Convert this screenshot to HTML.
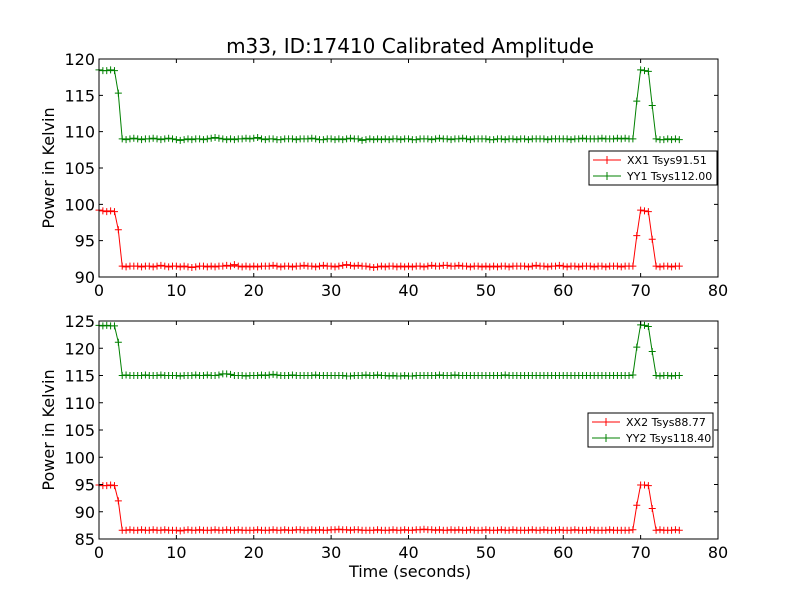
<!DOCTYPE html>
<html><head><meta charset="utf-8"><style>
body{margin:0;background:#fff;}
svg{display:block;font-family:"DejaVu Sans","Liberation Sans",sans-serif;}
</style></head><body>
<svg id="chart" width="800" height="600" viewBox="0 0 800 600" xmlns="http://www.w3.org/2000/svg">
<rect width="800" height="600" fill="#fff"/>
<text x="410" y="53" font-size="20" text-anchor="middle">m33, ID:17410 Calibrated Amplitude</text>
<text x="410" y="577" font-size="16" text-anchor="middle">Time (seconds)</text>
<g id="p1"></g>
<g id="p2"></g>
</svg>
<script>
const dt = 0.5;
const xTicks = [0,10,20,30,40,50,60,70,80];
const yTicksTop = [90,95,100,105,110,115,120];
const yTicksBottom = [85,90,95,100,105,110,115,120,125];
const xx1 = [99.2,99.1,99.0,99.1,99.0,96.5,
91.5,91.4,91.5,91.5,
91.5,91.4,91.5,91.5,91.4,91.5,91.6,91.5,91.4,91.5,
91.5,91.4,91.5,91.4,91.3,91.4,91.5,91.5,91.4,91.5,
91.4,91.5,91.5,91.6,91.5,91.7,91.5,91.4,91.5,91.4,
91.5,91.4,91.5,91.5,91.5,91.6,91.5,91.4,91.5,91.5,
91.4,91.5,91.5,91.6,91.5,91.5,91.4,91.5,91.6,91.5,
91.5,91.4,91.5,91.6,91.7,91.6,91.5,91.6,91.5,91.5,
91.4,91.3,91.4,91.5,91.4,91.5,91.5,91.4,91.5,91.4,
91.5,91.4,91.5,91.5,91.4,91.5,91.6,91.5,91.5,91.6,
91.6,91.5,91.5,91.6,91.5,91.5,91.4,91.5,91.5,91.4,
91.5,91.4,91.5,91.4,91.5,91.5,91.4,91.5,91.5,91.5,
91.5,91.4,91.5,91.6,91.5,91.5,91.4,91.5,91.5,91.6,
91.5,91.4,91.5,91.5,91.4,91.5,91.5,91.5,91.4,91.5,
91.5,91.4,91.5,91.5,91.5,91.4,91.5,91.5,91.5,
95.7,99.2,99.1,99.0,95.2,
91.5,91.4,91.5,91.5,91.4,91.5,91.5];
const yy1 = [118.5,118.4,118.4,118.5,118.4,115.3,
109.0,108.9,109.0,109.1,
109.0,108.9,109.0,109.0,109.1,109.0,108.9,109.0,109.1,109.0,
108.9,108.8,108.9,109.0,108.9,109.0,109.0,108.9,109.0,109.1,
109.2,109.1,109.0,108.9,109.0,108.9,109.0,109.0,109.1,109.0,
109.1,109.2,109.0,108.9,109.0,109.0,108.9,108.9,109.0,109.0,
109.0,108.9,109.0,109.0,109.0,109.1,109.0,108.9,108.9,109.0,
109.0,108.9,109.0,108.9,109.0,109.1,109.0,109.0,108.8,108.9,
109.0,108.9,109.0,108.9,109.0,108.9,109.0,109.0,108.9,109.0,
109.0,108.9,108.9,109.0,109.0,109.0,108.9,109.0,109.1,109.0,
109.0,108.9,109.0,109.0,109.1,109.0,108.9,109.0,109.0,109.0,
109.0,108.9,108.9,109.0,109.0,108.9,109.0,109.0,108.9,109.0,
109.0,108.9,109.0,109.0,109.0,109.0,108.9,109.0,109.0,109.0,
109.0,109.0,108.9,109.0,109.0,109.1,109.0,109.0,109.0,109.0,
109.1,109.0,109.0,109.0,109.1,109.0,109.1,109.0,109.0,
114.2,118.5,118.4,118.3,113.6,
109.0,108.9,108.9,109.0,108.9,109.0,108.9];
const xx2 = [94.9,94.8,94.8,94.9,94.8,92.0,
86.6,86.6,86.7,86.6,
86.6,86.7,86.6,86.6,86.7,86.6,86.6,86.7,86.6,86.6,
86.6,86.5,86.6,86.7,86.6,86.6,86.7,86.6,86.6,86.6,
86.7,86.6,86.6,86.7,86.6,86.6,86.7,86.6,86.6,86.6,
86.6,86.7,86.6,86.6,86.6,86.7,86.6,86.6,86.7,86.6,
86.6,86.7,86.7,86.6,86.6,86.7,86.6,86.7,86.6,86.6,
86.7,86.7,86.8,86.7,86.7,86.6,86.7,86.7,86.6,86.6,
86.6,86.6,86.7,86.6,86.6,86.6,86.7,86.6,86.6,86.7,
86.6,86.6,86.7,86.7,86.8,86.7,86.7,86.6,86.7,86.6,
86.6,86.7,86.6,86.7,86.6,86.6,86.7,86.6,86.6,86.6,
86.7,86.6,86.6,86.6,86.7,86.6,86.6,86.7,86.6,86.6,
86.6,86.6,86.7,86.6,86.6,86.7,86.6,86.6,86.6,86.7,
86.6,86.6,86.6,86.7,86.6,86.6,86.6,86.7,86.6,86.6,
86.6,86.6,86.7,86.6,86.6,86.6,86.6,86.6,86.7,
91.2,94.9,94.9,94.8,90.6,
86.6,86.7,86.6,86.6,86.6,86.7,86.6];
const yy2 = [124.2,124.1,124.2,124.1,124.1,121.1,
115.0,115.1,115.0,115.0,
115.0,115.0,115.1,115.0,115.0,115.0,115.1,115.0,115.0,115.0,
115.0,114.9,115.0,115.0,115.0,115.1,115.0,115.0,115.1,115.0,
115.0,115.1,115.3,115.3,115.2,115.0,115.0,115.0,114.9,115.0,
115.0,115.0,115.1,115.0,115.1,115.2,115.1,115.0,115.0,115.0,
115.1,115.0,115.0,115.0,115.0,115.0,115.1,115.0,115.0,115.0,
115.0,115.0,115.0,115.0,114.9,114.9,115.0,115.0,115.0,115.1,
115.0,115.0,115.1,115.0,115.0,114.9,115.0,114.9,114.9,115.0,
114.9,114.9,115.0,115.0,115.0,115.0,115.0,115.0,115.1,115.0,
115.0,115.0,115.1,115.0,115.0,115.0,115.0,115.0,115.0,115.0,
115.0,115.0,115.0,115.0,115.0,115.1,115.0,115.0,115.0,115.0,
115.0,115.0,115.0,115.0,115.0,115.0,115.0,115.0,115.0,115.0,
115.0,115.0,115.0,115.0,115.0,115.0,115.0,115.0,115.0,115.0,
115.0,115.0,115.0,115.0,115.0,115.0,115.0,115.0,115.1,
120.2,124.3,124.2,124.0,119.4,
115.0,114.9,115.0,115.0,114.9,115.0,115.0];
const legendTop = ["XX1 Tsys91.51","YY1 Tsys112.00"];
const legendBottom = ["XX2 Tsys88.77","YY2 Tsys118.40"];

const NS = "http://www.w3.org/2000/svg";
function mk(parent, tag, attrs){const e=document.createElementNS(NS,tag);for(const k in attrs)e.setAttribute(k,attrs[k]);parent.appendChild(e);return e;}

function panel(g, top, bottom, ymin, ymax, yTicks, series, legend, lx, ly, lw){
  const L=99, R=718;
  const xs = v => L + (v-0)/(80-0)*(R-L);
  const ys = v => bottom - (v-ymin)/(ymax-ymin)*(bottom-top);
  series.forEach(s=>{
    const pts = s.vals.map((v,i)=>xs(i*dt).toFixed(1)+","+ys(v).toFixed(1)).join(" ");
    const line = mk(g,"polyline",{points:pts,fill:"none",stroke:s.color,"stroke-width":1});
    
    
    let d="";
    s.vals.forEach((v,i)=>{const x=xs(i*dt),y=ys(v);d+=`M${x-3.5},${y}h7M${x},${y-3.5}v7`;});
    const m = mk(g,"path",{d:d,stroke:s.color,"stroke-width":1,fill:"none"});
    
    
  });
  const frame = mk(g,"rect",{x:L,y:top,width:R-L,height:bottom-top,fill:"none",stroke:"#000","stroke-width":1});
  
  
  xTicks.forEach(t=>{
    const x=xs(t);
    mk(g,"path",{d:`M${x},${bottom}v-4M${x},${top}v4`,stroke:"#000"});
    const tx = mk(g,"text",{x:x,y:bottom+19,"font-size":16,"text-anchor":"middle"});
    tx.textContent=t;
    
    
  });
  yTicks.forEach(t=>{
    const y=ys(t);
    mk(g,"path",{d:`M${L},${y}h4M${R},${y}h-4`,stroke:"#000"});
    const tx = mk(g,"text",{x:L-4,y:y+6,"font-size":16,"text-anchor":"end"});
    tx.textContent=t;
    
    
  });
  const yl = mk(g,"text",{x:0,y:0,"font-size":16,"text-anchor":"middle",transform:`translate(54,${(top+bottom)/2}) rotate(-90)`});
  yl.textContent="Power in Kelvin";
  
  
  const lg = mk(g,"g",{});
  
  
  mk(lg,"rect",{x:lx,y:ly,width:lw,height:34,fill:"#fff",stroke:"#000","stroke-width":1});
  legend.forEach((txt,i)=>{
    const y=ly+9+i*16, c=series[i].color;
    mk(lg,"path",{d:`M${lx+4},${y}h28M${lx+18},${y-4}v8`,stroke:c,"stroke-width":1});
    const t=mk(lg,"text",{x:lx+38,y:y+4,"font-size":11});
    t.textContent=txt;
    
    
  });
}
panel(document.getElementById("p1"),59,277,90,120,yTicksTop,
  [{vals:xx1,color:"#ff0000",name:"xx1"},{vals:yy1,color:"#008000",name:"yy1"}],legendTop,589,151,128);
panel(document.getElementById("p2"),321,539,85,125,yTicksBottom,
  [{vals:xx2,color:"#ff0000",name:"xx2"},{vals:yy2,color:"#008000",name:"yy2"}],legendBottom,588,413,125);
</script>
</body></html>
